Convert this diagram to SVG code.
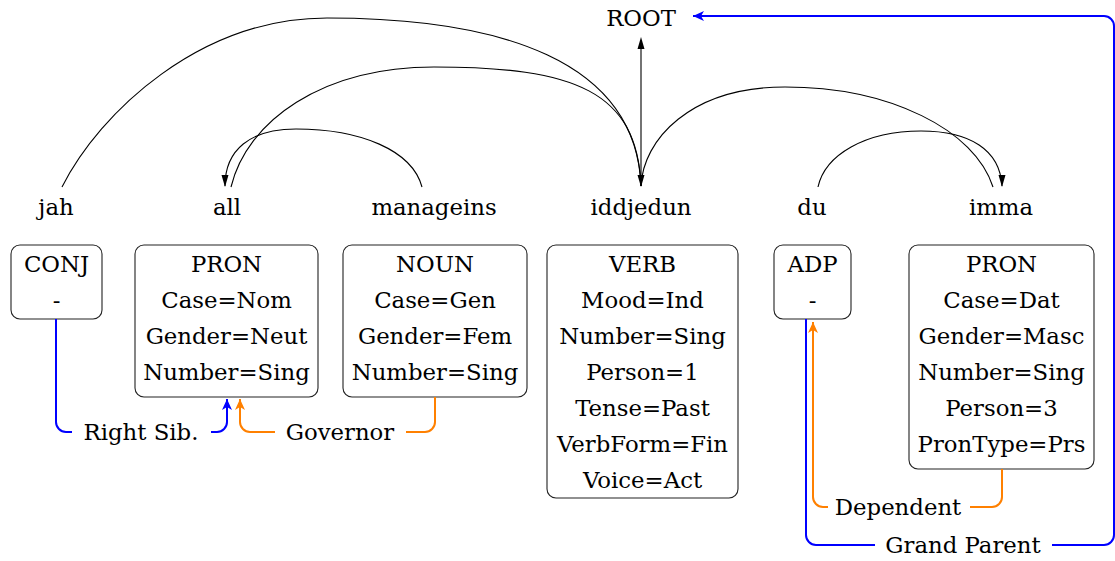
<svg xmlns="http://www.w3.org/2000/svg" width="1115" height="561" viewBox="0 0 1115 561">
<style>
text{font-family:"DejaVu Serif","Liberation Serif",serif;font-size:22.8px;fill:#000;text-anchor:middle}
.box{fill:#fff;stroke:#222;stroke-width:1.1}
.arc{fill:none;stroke:#000;stroke-width:1.1}
.blue{fill:none;stroke:#0000ff;stroke-width:2}
.orange{fill:none;stroke:#ff8000;stroke-width:2}
.ah{fill:#000}
</style>
<defs>
<marker id="mb" markerUnits="userSpaceOnUse" markerWidth="14" markerHeight="12" viewBox="-12 -6 14 12" refX="0" refY="0" orient="auto">
<path d="M0,0 L-11,-5 L-8,0 L-11,5 Z" fill="#0000ff"/>
</marker>
<marker id="mo" markerUnits="userSpaceOnUse" markerWidth="14" markerHeight="12" viewBox="-12 -6 14 12" refX="0" refY="0" orient="auto">
<path d="M0,0 L-11,-5 L-8,0 L-11,5 Z" fill="#ff8000"/>
</marker>
</defs>
<rect width="1115" height="561" fill="#fff"/>

<g id="root"><text x="641" y="26">ROOT</text></g>

<g id="w-jah"><text x="56" y="215">jah</text></g>
<g id="w-all"><text x="227" y="215">all</text></g>
<g id="w-manageins"><text x="434" y="215">manageins</text></g>
<g id="w-iddjedun"><text x="641" y="215">iddjedun</text></g>
<g id="w-du"><text x="812" y="215">du</text></g>
<g id="w-imma"><text x="1001" y="215">imma</text></g>

<g id="n-conj">
<rect class="box" x="11" y="245" width="91" height="74" rx="9"/>
<text x="56.5" y="272">CONJ</text><text x="56.5" y="308">-</text>
</g>
<g id="n-pron1">
<rect class="box" x="135" y="245" width="183" height="152" rx="9"/>
<text x="226.5" y="272">PRON</text><text x="226.5" y="308">Case=Nom</text><text x="226.5" y="344">Gender=Neut</text><text x="226.5" y="380">Number=Sing</text>
</g>
<g id="n-noun">
<rect class="box" x="343" y="245" width="184" height="152" rx="9"/>
<text x="435" y="272">NOUN</text><text x="435" y="308">Case=Gen</text><text x="435" y="344">Gender=Fem</text><text x="435" y="380">Number=Sing</text>
</g>
<g id="n-verb">
<rect class="box" x="547" y="245" width="191" height="253" rx="9"/>
<text x="642.5" y="272">VERB</text><text x="642.5" y="308">Mood=Ind</text><text x="642.5" y="344">Number=Sing</text><text x="642.5" y="380">Person=1</text><text x="642.5" y="416">Tense=Past</text><text x="642.5" y="452">VerbForm=Fin</text><text x="642.5" y="488">Voice=Act</text>
</g>
<g id="n-adp">
<rect class="box" x="774" y="245" width="77" height="74" rx="9"/>
<text x="812.5" y="272">ADP</text><text x="812.5" y="308">-</text>
</g>
<g id="n-pron2">
<rect class="box" x="909" y="245" width="185" height="224" rx="9"/>
<text x="1001.5" y="272">PRON</text><text x="1001.5" y="308">Case=Dat</text><text x="1001.5" y="344">Gender=Masc</text><text x="1001.5" y="380">Number=Sing</text><text x="1001.5" y="416">Person=3</text><text x="1001.5" y="452">PronType=Prs</text>
</g>

<g id="connectors">
<path class="arc" d="M62,187 C100,112 200,18 327,18 C500,18 636,60 641,186"/>
<path class="arc" d="M231,187 C247,121 322,67 434,67 C575,67 637,91 641,186"/>
<path class="arc" d="M225,186 C225,150 250,129 296,129 C360,129 412,150 422,187"/>
<path class="arc" d="M641,186 C643,140 690,87 785,87 C890,87 975,130 993,187"/>
<path class="arc" d="M818,187 C825,155 865,131 921,131 C970,131 1000,150 1002,186"/>
<path class="arc" d="M641,186 V46"/>
<path class="ah" d="M641,187 L637.5,175 L644.5,175 Z"/>
<path class="ah" d="M225,187 L221.5,175 L228.5,175 Z"/>
<path class="ah" d="M1002,187 L998.5,175 L1005.5,175 Z"/>
<path class="ah" d="M641,37 L637.5,49 L644.5,49 Z"/>

<path class="blue" d="M56,319 V422 A10,10 0 0 0 66,432 H72"/>
<path class="blue" d="M211,432 H217 A10,10 0 0 0 227,422 V399" marker-end="url(#mb)"/>
<path class="orange" d="M275,432 H250 A10,10 0 0 1 240,422 V399" marker-end="url(#mo)"/>
<path class="orange" d="M406,432 H425 A10,10 0 0 0 435,422 V397"/>
<path class="orange" d="M828,507 H823 A10,10 0 0 1 813,497 V322" marker-end="url(#mo)"/>
<path class="orange" d="M970,507 H992 A10,10 0 0 0 1002,497 V469"/>
<path class="blue" d="M875,545 H816 A10,10 0 0 1 806,535 V319"/>
<path class="blue" d="M1052,545 H1104 A10,10 0 0 0 1114,535 V26 A10,10 0 0 0 1104,16 H693" marker-end="url(#mb)"/>
</g>

<g id="labels">
<text x="141" y="440">Right Sib.</text>
<text x="340" y="440">Governor</text>
<text x="898" y="515">Dependent</text>
<text x="963" y="553">Grand Parent</text>
</g>
</svg>
